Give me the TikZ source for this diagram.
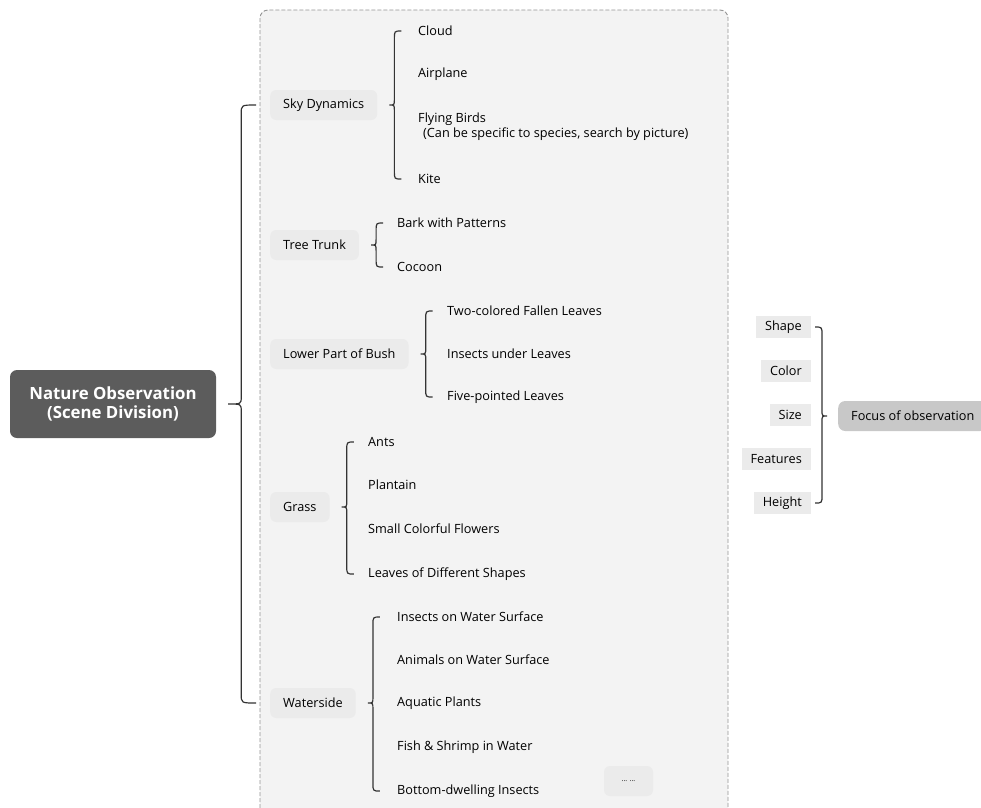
\documentclass[tikz,border=0pt]{standalone}
\usepackage{fontspec}
\setmainfont{Open Sans}
\usetikzlibrary{calc}
\definecolor{lvl}{HTML}{EBEBEB}
\definecolor{panel}{HTML}{F3F3F3}
\definecolor{rootc}{HTML}{5C5C5C}
\definecolor{focusc}{HTML}{C8C8C8}
\definecolor{linec}{HTML}{333333}
\tikzset{
  lvlbox/.style={fill=lvl, rounded corners=6pt, inner xsep=13pt, minimum height=30pt, anchor=west, font=\fontsize{12.7}{14}\selectfont},
  leaf/.style={anchor=west, inner sep=0pt, font=\fontsize{12.7}{14}\selectfont, align=left},
  rbox/.style={fill=lvl, inner xsep=9pt, minimum height=22pt, anchor=east, font=\fontsize{12.7}{14}\selectfont},
  brace/.style={draw=linec, line width=1.2pt},
}
\newcommand\lbr[3]{%
\draw[brace] let \p1=(#1.east), \p2=(#2.west), \p3=(#3.west) in
 (\x1+24pt,\y2) .. controls (\x1+17pt,\y2) .. (\x1+17pt,\y2-8pt) -- (\x1+17pt,\y1+6pt)
 .. controls (\x1+17pt,\y1) .. (\x1+12pt,\y1)
 .. controls (\x1+17pt,\y1) .. (\x1+17pt,\y1-6pt) -- (\x1+17pt,\y3+8pt)
 .. controls (\x1+17pt,\y3) .. (\x1+24pt,\y3);}
\begin{document}
\begin{tikzpicture}[x=1pt,y=-1pt]
\useasboundingbox (0,0) rectangle (981,807);
% panel
\draw[draw=gray!85, fill=panel, dash pattern=on 4pt off 2pt, line width=0.9pt, rounded corners=8pt] (260,10) rectangle (728,830);
% root
\node[fill=rootc, rounded corners=7pt, text=white, font=\fontsize{16.8}{19.5}\selectfont\bfseries, align=center, minimum width=206pt, minimum height=68pt] (root) at (113,404) {Nature Observation\\(Scene Division)};
% level 1
\node[lvlbox] (sky) at (270,105) {Sky Dynamics};
\node[lvlbox] (tree) at (270,245) {Tree Trunk};
\node[lvlbox] (bush) at (270,354) {Lower Part of Bush};
\node[lvlbox] (grass) at (270,507) {Grass};
\node[lvlbox] (water) at (270,703) {Waterside};
% sky
\node[leaf] (cloud) at (418,31) {Cloud};
\node[leaf] (plane) at (418,74) {Airplane};
\node[leaf] (birds) at (418,127) {Flying Birds\\[1pt]\hspace{5pt}(Can be specific to species, search by picture)};
\node[leaf] (kite) at (418,179) {Kite};
% tree
\node[leaf] (bark) at (397,223) {Bark with Patterns};
\node[leaf] (cocoon) at (397,267) {Cocoon};
% bush
\node[leaf] (two) at (447,311) {Two-colored Fallen Leaves};
\node[leaf] (under) at (447,354) {Insects under Leaves};
\node[leaf] (five) at (447,397) {Five-pointed Leaves};
% grass
\node[leaf] (ants) at (368,442) {Ants};
\node[leaf] (plantain) at (368,485) {Plantain};
\node[leaf] (flowers) at (368,529) {Small Colorful Flowers};
\node[leaf] (shapes) at (368,574) {Leaves of Different Shapes};
% water
\node[leaf] (ins) at (397,617) {Insects on Water Surface};
\node[leaf] (ani) at (397,660) {Animals on Water Surface};
\node[leaf] (aqua) at (397,703) {Aquatic Plants};
\node[leaf] (fish) at (397,747) {Fish \& Shrimp in Water};
\node[leaf] (bottom) at (397,791) {Bottom-dwelling Insects};
\node[fill=lvl, rounded corners=6pt, minimum width=49pt, minimum height=30pt, font=\fontsize{7}{8}\selectfont] (more) at (628.5,781) {... ...};
% braces
\lbr{sky}{cloud}{kite}
\lbr{tree}{bark}{cocoon}
\lbr{bush}{two}{five}
\lbr{grass}{ants}{shapes}
\lbr{water}{ins}{bottom}
% big brace
\draw[brace] let \p1=(root.east), \p2=(sky.west), \p3=(water.west) in
 (\x2-14pt,\y2) .. controls (\x1+25pt,\y2) .. (\x1+25pt,\y2-9pt) -- (\x1+25pt,\y1+7pt)
 .. controls (\x1+25pt,\y1) .. (\x1+12pt,\y1)
 .. controls (\x1+25pt,\y1) .. (\x1+25pt,\y1-7pt) -- (\x1+25pt,\y3+9pt)
 .. controls (\x1+25pt,\y3) .. (\x2-14pt,\y3);
% right side
\node[rbox] (shape) at (811,327) {Shape};
\node[rbox] (color) at (811,371) {Color};
\node[rbox] (size) at (811,415) {Size};
\node[rbox] (feat) at (811,459) {Features};
\node[rbox] (height) at (811,503) {Height};
\node[fill=focusc, rounded corners=7pt, minimum height=30pt, inner xsep=13pt, anchor=west, font=\fontsize{12.7}{14}\selectfont] (focus) at (838,416) {Focus of observation};
\draw[brace] let \p1=(focus.west), \p2=(shape.east), \p3=(height.east) in
 (\x2+4pt,\y2) .. controls (\x1-16pt,\y2) .. (\x1-16pt,\y2-8pt) -- (\x1-16pt,\y1+6pt)
 .. controls (\x1-16pt,\y1) .. (\x1-11pt,\y1)
 .. controls (\x1-16pt,\y1) .. (\x1-16pt,\y1-6pt) -- (\x1-16pt,\y3+8pt)
 .. controls (\x1-16pt,\y3) .. (\x2+4pt,\y3);
\end{tikzpicture}
\end{document}
